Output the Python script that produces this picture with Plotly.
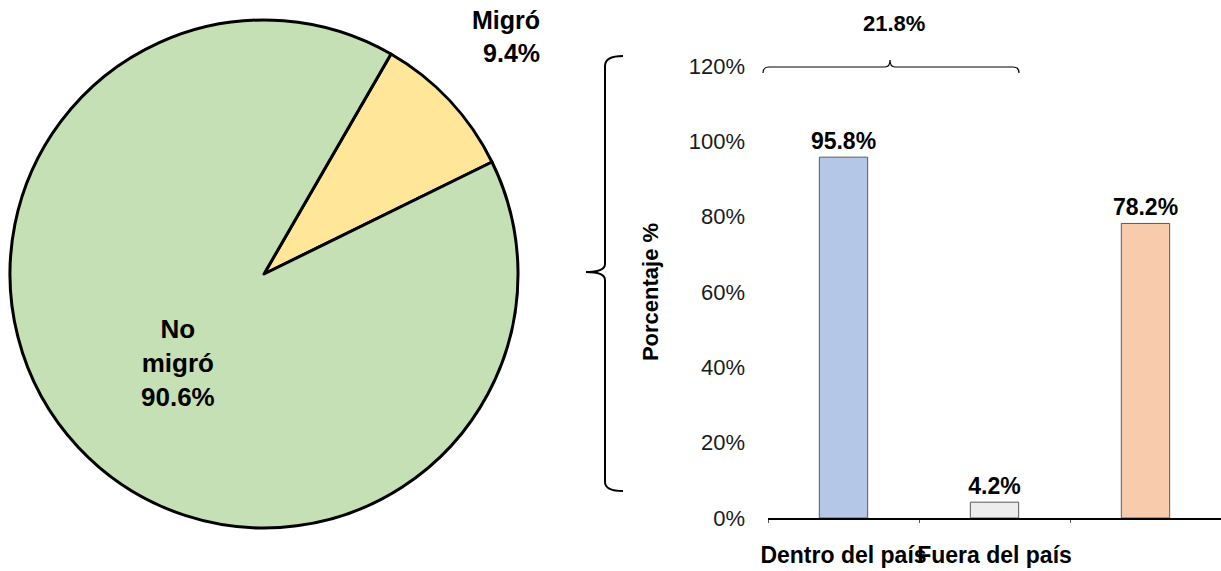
import plotly.graph_objects as go

W, H = 1221, 571

# ---- data ----
pie_labels = ["Migró", "No migró"]
pie_values = [9.4, 90.6]
pie_colors = ["#FFE699", "#C5E0B4"]

bar_categories = ["Dentro del país", "Fuera del país", " "]
bar_values = [95.8, 4.2, 78.2]
bar_colors = ["#B4C7E7", "#EDEDED", "#F8CBAD"]
bracket_value = 21.8

y_ticks = [0, 20, 40, 60, 80, 100, 120]
y_ticklabels = [f"{v}%" for v in y_ticks]

FONT = "Liberation Sans, Arial, sans-serif"


def px(x, y):
    return x / W, 1 - y / H


def path(points_cmds):
    out = []
    for cmd, pts in points_cmds:
        coords = " ".join("%.5f,%.5f" % px(*p) for p in pts)
        out.append(f"{cmd} {coords}")
    return " ".join(out)


fig = go.Figure()

# Pie
fig.add_trace(go.Pie(
    labels=pie_labels, values=pie_values, sort=False, direction="clockwise",
    rotation=30,
    marker=dict(colors=pie_colors, line=dict(color="black", width=3)),
    textinfo="none", hoverinfo="label+percent", showlegend=False,
    domain=dict(x=[10 / W, 518 / W], y=[1 - 528 / H, 1 - 20 / H]),
))

# Bars
fig.add_trace(go.Bar(
    x=bar_categories, y=bar_values,
    marker=dict(color=bar_colors, line=dict(color="#595959", width=1)),
    text=[f"<b>{v:.1f}%</b>" for v in bar_values], textposition="outside",
    textfont=dict(family=FONT, size=23, color="black"),
    cliponaxis=False, showlegend=False, width=0.32,
))

fig.update_layout(
    width=W, height=H, margin=dict(l=0, r=0, t=0, b=0),
    plot_bgcolor="white", paper_bgcolor="white",
    font=dict(family=FONT, color="black"),
    uniformtext=dict(minsize=23, mode="show"),
    xaxis=dict(domain=[768 / W, 1], showgrid=False, showline=True,
               linecolor="black", linewidth=1.5, ticks="outside",
               tickson="boundaries", ticklen=3, tickcolor="#595959",
               tickvals=bar_categories, tickangle=0,
               ticktext=[f"<b>{c}</b>" for c in bar_categories],
               tickfont=dict(family=FONT, size=23, color="black"),
               ticklabelstandoff=16,
               zeroline=False, fixedrange=True, automargin=False),
    yaxis=dict(domain=[1 - 518 / H, 1 - 66 / H], range=[0, 120],
               tickvals=y_ticks, ticktext=y_ticklabels, showgrid=False,
               showline=False, zeroline=False, ticks="", ticklabelstandoff=22,
               automargin=False,
               tickfont=dict(family=FONT, size=22, color="#1a1a1a"),
               title=dict(text="<b>Porcentaje %</b>", standoff=24,
                          font=dict(family=FONT, size=22, color="black"))),
)

# Pie labels
ann = []
mx, my = px(506, 36)
ann.append(dict(x=mx, y=my, xref="paper", yref="paper", showarrow=False,
                text=f"<b>{pie_labels[0]}<br>{pie_values[0]}%</b>",
                font=dict(family=FONT, size=25, color="black"), align="right",
                xanchor="center", yanchor="middle"))
nx, ny = px(178, 363)
ann.append(dict(x=nx, y=ny, xref="paper", yref="paper", showarrow=False,
                text="<b>No<br>migró<br>%.1f%%</b>" % pie_values[1],
                font=dict(family=FONT, size=26, color="black"), align="center",
                xanchor="center", yanchor="middle"))
tx, ty = px(894, 24)
ann.append(dict(x=tx, y=ty, xref="paper", yref="paper", showarrow=False,
                text=f"<b>{bracket_value}%</b>",
                font=dict(family=FONT, size=22, color="black"),
                xanchor="center", yanchor="middle"))
fig.update_layout(annotations=ann)

# Curly braces
left_brace = path([
    ("M", [(623, 56)]),
    ("Q", [(605, 56), (605, 66)]),
    ("L", [(605, 264)]),
    ("Q", [(605, 272), (586, 272)]),
    ("Q", [(605, 272), (605, 280)]),
    ("L", [(605, 482)]),
    ("Q", [(605, 491), (623, 491)]),
])
top_brace = path([
    ("M", [(763, 73)]),
    ("Q", [(763, 67), (769, 67)]),
    ("L", [(885, 67)]),
    ("Q", [(890, 67), (890, 60)]),
    ("Q", [(890, 67), (895, 67)]),
    ("L", [(1013, 67)]),
    ("Q", [(1019, 67), (1019, 73)]),
])
fig.update_layout(shapes=[
    dict(type="path", path=left_brace, xref="paper", yref="paper",
         line=dict(color="black", width=2)),
    dict(type="path", path=top_brace, xref="paper", yref="paper",
         line=dict(color="black", width=1.2)),
])

fig.write_html("out.html",
               config={"displayModeBar": False},
               post_script="document.body.style.margin='0px';"
                           "document.body.style.overflow='hidden';")
